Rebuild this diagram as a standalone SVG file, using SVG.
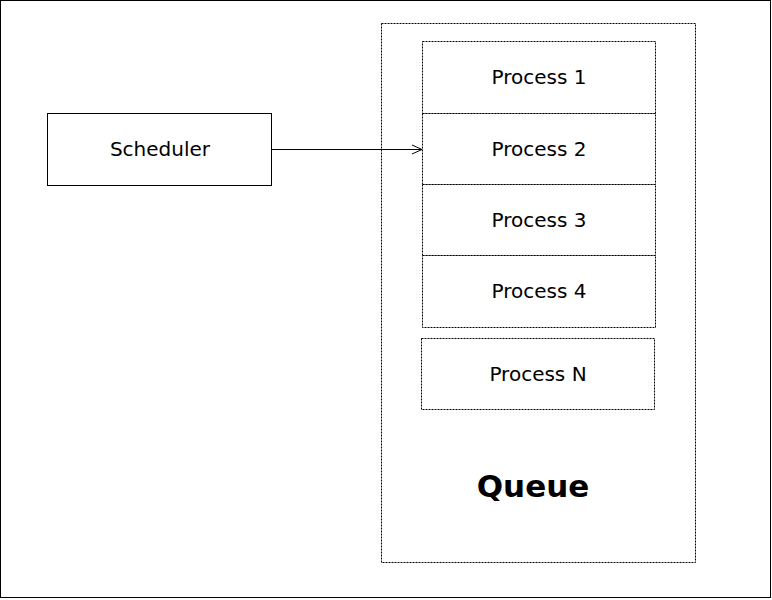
<svg xmlns="http://www.w3.org/2000/svg" width="772" height="600" viewBox="0 0 772 600">
<style>
.t{font-family:"DejaVu Sans",sans-serif;font-size:20px;fill:#000;text-anchor:middle}
.d{fill:#fff;stroke:#000;stroke-width:1;stroke-dasharray:2 1}
</style>
<defs>
<marker id="ar" markerWidth="12" markerHeight="12" refX="11" refY="6" orient="auto" markerUnits="userSpaceOnUse">
<path d="M1,1.5 L11,6 L1,10.5" fill="none" stroke="#000" stroke-width="1"/>
</marker>
</defs>
<rect x="0.5" y="0.5" width="770" height="597" fill="#fff" stroke="#000"/>
<g id="queue">
<rect class="d" x="381.5" y="23.5" width="314" height="539"/>
<text x="533" y="497" style="font-family:'DejaVu Sans',sans-serif;font-size:31px;font-weight:bold;text-anchor:middle">Queue</text>
</g>
<g id="p1"><rect class="d" x="422.5" y="41.5" width="233" height="72"/><text class="t" x="539" y="84">Process 1</text></g>
<g id="p2"><rect class="d" x="422.5" y="113.5" width="233" height="71"/><text class="t" x="539" y="156">Process 2</text></g>
<g id="p3"><rect class="d" x="422.5" y="184.5" width="233" height="71"/><text class="t" x="539" y="227">Process 3</text></g>
<g id="p4"><rect class="d" x="422.5" y="255.5" width="233" height="72"/><text class="t" x="539" y="298">Process 4</text></g>
<g id="pn"><rect class="d" x="421.5" y="338.5" width="233" height="71"/><text class="t" x="538" y="381">Process N</text></g>
<g id="scheduler"><rect x="47.5" y="113.5" width="224" height="72" fill="#fff" stroke="#000"/><text class="t" x="160" y="156">Scheduler</text></g>
<g id="connectors">
<line x1="272" y1="149.5" x2="422" y2="149.5" stroke="#000" stroke-width="1" marker-end="url(#ar)"/>
</g>
</svg>
